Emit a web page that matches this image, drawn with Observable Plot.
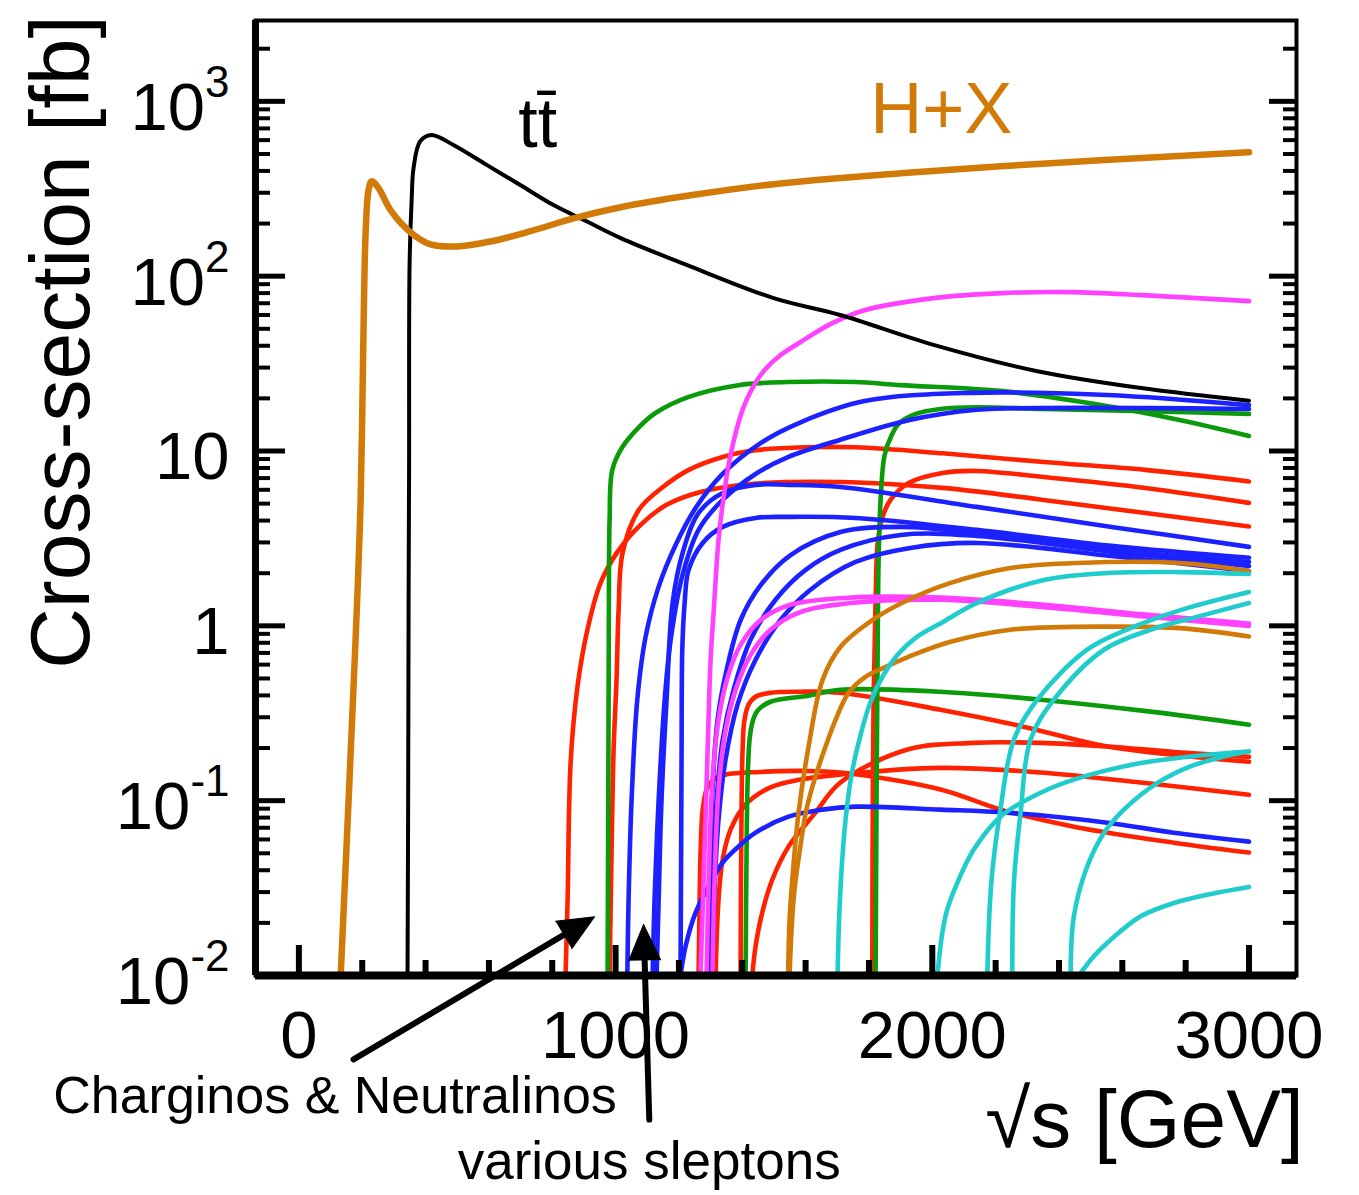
<!DOCTYPE html>
<html><head><meta charset="utf-8">
<script src="https://cdn.jsdelivr.net/npm/d3@7"></script>
<script src="https://cdn.jsdelivr.net/npm/@observablehq/plot@0.6"></script>
<style>
html,body{margin:0;padding:0;background:#fff;}
#chart svg{display:block;}
</style></head><body><div id="chart"></div>
<script>
// ---------- axes ----------
const xDomain = [-137, 3150];
const yDomain = [0.01, 2900];
const xTickValues = [0, 1000, 2000, 3000];
const xTickLabels = ["0", "1000", "2000", "3000"];
const xMinorTicks = [200, 400, 600, 800, 1200, 1400, 1600, 1800, 2200, 2400, 2600, 2800];
const yTickValues = [0.01, 0.1, 1, 10, 100, 1000];
const yTickLabels = ["10^-2", "10^-1", "1", "10", "10^2", "10^3"];
const yMinorTicks = [0.02,0.03,0.04,0.05,0.06,0.07,0.08,0.09, 0.2,0.3,0.4,0.5,0.6,0.7,0.8,0.9,
  2,3,4,5,6,7,8,9, 20,30,40,50,60,70,80,90, 200,300,400,500,600,700,800,900, 2000];
const xTitle = "√s [GeV]";
const yTitle = "Cross-section [fb]";

// ---------- curves: [sqrt(s) GeV, cross-section fb] ----------
const higgsX = [[132,0.01],[157,0.101],[179,0.83],[195,5.25],[204,49],[211,183],[220,310],[230,349],[252,318],[290,238],[353,178],[416,152],[498,148],[605,158],[732,181],[867,214],[1016,248],[1237,290],[1499,336],[1900,388],[2216,425],[2531,460],[3000,511]];
const ttbar = [[343,0.01],[345,0.1],[346.4,1.41],[348,8.3],[349.5,116],[356,272],[362,414],[383,591],[419,642],[488,563],[593,433],[699,332],[804,255],[908,206],[1016,165],[1224,116],[1499,74.9],[1709,60],[2004,40.5],[2332,28.6],[2660,22.9],[3000,19.4]];

const red1 = [[842,0.01],[848.5,0.0272],[858,0.165],[880,0.454],[911.6,0.96],[952.6,1.76],[1006,2.65],[1079,3.78],[1161,4.92],[1268,5.83],[1426,6.48],[1710,6.65],[2032,6.15],[2351,5.25],[2673,4.42],[3000,3.7]];
const red2 = [[981,0.01],[987.4,0.0525],[993.7,0.196],[1003,0.49],[1009.5,1.23],[1022,2.61],[1073,4.6],[1148.5,6.2],[1231,7.8],[1338,9.25],[1442,10.1],[1600,10.5],[1758,10.5],[2033,9.7],[2352,8.65],[2673,7.8],[3000,6.7]];
const red3 = [[1394.7,0.01],[1396,0.0354],[1398,0.101],[1401,0.196],[1407,0.29],[1420,0.354],[1442,0.393],[1489,0.414],[1584,0.42],[1710,0.414],[2026,0.331],[2288,0.265],[2553,0.204],[3000,0.167]];
const red4 = [[1431.6,0.01],[1442,0.0147],[1463,0.0229],[1495,0.0354],[1546,0.0546],[1631,0.0854],[1710,0.127],[1922,0.196],[2130,0.214],[2342,0.214],[2553,0.204],[2762,0.19],[3000,0.178]];
const red5 = [[1810.6,0.01],[1811.5,0.0525],[1814.6,0.378],[1821,1.41],[1827,2.9],[1840,4.04],[1868,5.25],[1925,6.56],[2032,7.49],[2140,7.69],[2351,7.1],[2673,6.15],[3000,5.05]];
const red6 = [[1262,0.01],[1265.4,0.0272],[1268.6,0.0525],[1275,0.0889],[1287.7,0.116],[1309.8,0.132],[1347.7,0.141],[1458,0.146],[1584,0.148],[1710,0.145],[2026,0.116],[2216,0.0889],[2447,0.071],[2762,0.0575],[3000,0.0505]];
const red7 = [[1315.8,0.01],[1325,0.0272],[1338,0.046],[1363,0.0683],[1410.5,0.0949],[1489,0.119],[1584,0.132],[1710,0.141],[2026,0.154],[2342,0.145],[2658,0.127],[3000,0.108]];

const green1 = [[974.7,0.01],[976.3,0.0525],[977.9,0.378],[978.8,1.41],[981.1,4.04],[989.6,7.79],[1021,10.5],[1074,13.7],[1126,16.5],[1231,20.4],[1388,23.8],[1546,24.8],[1758,24.8],[1900,23.8],[2222,22],[2551,18.1],[2784,15],[3000,12.2]];
const green2 = [[1821,0.01],[1824,0.101],[1827.5,0.73],[1830.5,2.38],[1836.8,5.25],[1849.5,9.5],[1871.6,12.3],[1893.7,14.3],[1947.5,16.3],[2026,17.4],[2140,17.8],[2351,17.4],[2673,16.9],[3000,16.3]];
const green3 = [[1410.5,0.01],[1413.6,0.0525],[1417,0.132],[1423,0.223],[1432.6,0.283],[1448,0.327],[1489,0.368],[1609,0.398],[1710,0.431],[2026,0.42],[2342,0.378],[2689,0.323],[3000,0.272]];

const blue1 = [[1037,0.01],[1041,0.0272],[1050.5,0.101],[1068.5,0.378],[1094.7,0.865],[1135.8,1.67],[1189.5,2.9],[1252.6,4.72],[1337.9,7.39],[1457.9,11.1],[1584.2,14.6],[1786,19.3],[2115,21.5],[2551,20.9],[3000,18.3]];
const blue2 = [[1117,0.01],[1123,0.0272],[1136,0.101],[1155,0.378],[1174,0.832],[1211.6,1.96],[1262,3.54],[1338,5.25],[1442,7.39],[1546,9.25],[1710,11.6],[1925,15],[2140,17.2],[2333,17.6],[2689,17.6],[3000,17.4]];
const blue3 = [[1129.5,0.01],[1136,0.0272],[1145,0.101],[1161,0.378],[1180,1.35],[1211.6,2.61],[1262,4.42],[1338,5.75],[1442,6.4],[1546,6.4],[1710,6.23],[2140,4.79],[2566,3.68],[3000,2.83]];
const blue4 = [[1205,0.01],[1207,0.0525],[1208.4,0.196],[1210.6,0.73],[1218,1.35],[1230.5,2.09],[1275,2.98],[1338,3.68],[1442,4.14],[1546,4.2],[1758,4.14],[2140,3.54],[2566,2.87],[3000,2.45]];
const blue5 = [[1290.4,0.01],[1296.7,0.0354],[1306,0.116],[1322,0.29],[1350.6,0.56],[1394.8,1.08],[1458,1.71],[1552.6,2.54],[1710,3.44],[1900,3.68],[2140,3.4],[2566,2.72],[3000,2.32]];
const blue6 = [[1300,0.01],[1306,0.0354],[1319,0.101],[1338,0.223],[1372.6,0.43],[1426,0.832],[1505,1.41],[1600,2.09],[1710,2.72],[1900,3.31],[2140,3.27],[2566,2.65],[3000,2.2]];
const blue7 = [[1306,0.01],[1312.6,0.031],[1325,0.078],[1347,0.171],[1385,0.354],[1442,0.64],[1520.6,1.08],[1615.4,1.61],[1757.8,2.32],[1931,2.79],[2140,2.98],[2566,2.51],[3000,2.06]];
const blueLow = [[1205,0.01],[1221,0.0147],[1252.6,0.0229],[1293.7,0.0323],[1338,0.0443],[1388,0.0546],[1442,0.0656],[1546,0.081],[1653,0.0889],[1758,0.0924],[2026,0.0889],[2238,0.0854],[2553,0.0748],[2762,0.0656],[3000,0.0583]];

const magenta1 = [[1268,0.01],[1278,0.0354],[1289.5,0.167],[1300,0.64],[1310,1.23],[1325,3.1],[1342,5.6],[1363,9.5],[1401,17.2],[1432,22.9],[1470,29],[1521,35.4],[1584,42],[1678,53.2],[1786,63.9],[2004,74.9],[2222,80],[2440,81],[2661,77.9],[3000,72]];
const magenta2 = [[1287.4,0.01],[1294,0.0354],[1306,0.132],[1325,0.29],[1354,0.51],[1395,0.78],[1458,1.08],[1552,1.32],[1741,1.45],[2026,1.45],[2352,1.32],[2674,1.16],[3000,1.03]];
const magenta3 = [[1306,0.01],[1312.6,0.0354],[1325,0.116],[1347,0.25],[1379,0.43],[1426,0.68],[1489,0.95],[1584,1.2],[1741,1.35],[2026,1.41],[2352,1.28],[2674,1.13],[3000,1.0]];

const orange1 = [[1544.7,0.01],[1549.4,0.0209],[1558,0.0354],[1577.8,0.0854],[1609.4,0.204],[1653.6,0.491],[1710.5,0.759],[1821,1.11],[1925,1.41],[2058,1.76],[2247,2.14],[2459,2.29],[2781,2.29],[3000,2.06]];
const orange2 = [[1549.4,0.01],[1555.6,0.0183],[1565,0.031],[1584.2,0.0561],[1602.5,0.0889],[1628,0.132],[1659.6,0.196],[1694.6,0.29],[1735.6,0.414],[1789,0.511],[1846,0.575],[1925,0.665],[2058,0.81],[2247,0.95],[2566,0.99],[2784,0.97],[3000,0.87]];

const cyan1 = [[1700.9,0.01],[1705.7,0.0209],[1713.6,0.0403],[1726.2,0.078],[1745.2,0.141],[1773.6,0.238],[1805.2,0.368],[1846.2,0.525],[1890.4,0.683],[1947.2,0.854],[2032.5,1.05],[2140,1.35],[2352,1.83],[2566,2.01],[2781,2.03],[3000,1.98]];
const cyan2 = [[2016,0.01],[2031.5,0.0175],[2047,0.0238],[2079,0.0339],[2131,0.0525],[2216,0.0813],[2342,0.111],[2447,0.132],[2658,0.164],[2868,0.183],[3000,0.191]];
const cyan3 = [[2173.7,0.01],[2186.3,0.0339],[2213.5,0.085],[2257.7,0.223],[2331.5,0.378],[2489,0.73],[2626,0.97],[2784,1.23],[3000,1.56]];
const cyan4 = [[2252.6,0.01],[2257.7,0.0339],[2278.8,0.085],[2310,0.223],[2384,0.378],[2542,0.73],[2689,0.95],[2847,1.14],[3000,1.35]];
const cyan5 = [[2436.8,0.01],[2447,0.0218],[2489,0.042],[2542,0.0654],[2605,0.0889],[2710,0.126],[2815,0.157],[2921,0.179],[3000,0.191]];
const cyan6 = [[2463,0.01],[2510,0.0129],[2553,0.0154],[2658,0.0218],[2763,0.026],[2868,0.029],[3000,0.0321]];

// ---------- annotations ----------
const noteText = ["tt\u0304", "H+X", "Charginos & Neutralinos", "various sleptons"];
const noteX = [754, 2028, 114, 1106];
const noteY = [739, 889, 0.00204, 0.000853];
const titleX = [2670, -749];
const titleY = [0.00148, 42];
const arrowFrom = [[172.7, 0.00331], [1106.4, 0.0015]];
const arrowTo = [[933.7, 0.0217], [1088.4, 0.0196]];

// ---------- styling ----------
const COLORS = {red: "#ff2200", green: "#0a9a0a", blue: "#1c22ff", magenta: "#ff42ff", orange: "#d27a08", cyan: "#20cccc"};
const susy = [
  ["red", [red1, red2, red3, red4, red5, red6, red7]],
  ["green", [green1, green2, green3]],
  ["blue", [blue1, blue2, blue3, blue4, blue5, blue6, blue7, blueLow]],
  ["magenta", [magenta1, magenta2, magenta3]],
  ["orange", [orange1, orange2]],
  ["cyan", [cyan1, cyan2, cyan3, cyan4, cyan5, cyan6]]
];
const FONT = "'Liberation Sans', Arial, Helvetica, sans-serif";
const px = d => d[0], py = d => d[1];
const blank = () => "";
const CURVE = "catmull-rom";

const lineMarks = [];
for (const [col, list] of susy) {
  for (const pts of list) {
    lineMarks.push(Plot.line(pts, {x: px, y: py, stroke: COLORS[col], strokeWidth: 4.6, curve: CURVE, clip: true}));
  }
}
lineMarks.push(Plot.line(ttbar, {x: px, y: py, stroke: "black", strokeWidth: 4, curve: CURVE, clip: true}));
lineMarks.push(Plot.line(higgsX, {x: px, y: py, stroke: COLORS.orange, strokeWidth: 6.5, curve: CURVE, clip: true}));

const yLabelOf = new Map(yTickValues.map((v, i) => [v, yTickLabels[i]]));
const xLabelOf = new Map(xTickValues.map((v, i) => [v, xTickLabels[i]]));

const svg = Plot.plot({
  width: 1359,
  height: 1195,
  marginLeft: 255,
  marginRight: 63,
  marginTop: 20,
  marginBottom: 220,
  style: {fontFamily: FONT, background: "white", color: "black"},
  x: {domain: xDomain, axis: null},
  y: {type: "log", domain: yDomain, axis: null},
  marks: [
    ...lineMarks,
    // frame
    Plot.frame({stroke: "black", strokeWidth: 4}),
    Plot.ruleX([xDomain[0]], {stroke: "black", strokeWidth: 7}),
    Plot.ruleY([yDomain[0]], {stroke: "black", strokeWidth: 8}),
    // inward ticks
    Plot.axisY(yTickValues, {anchor: "left", tickSize: -30, strokeWidth: 5, tickFormat: blank, label: null}),
    Plot.axisY(yMinorTicks, {anchor: "left", tickSize: -15, strokeWidth: 4, tickFormat: blank, label: null}),
    Plot.axisY(yTickValues, {anchor: "right", tickSize: -28, strokeWidth: 5, tickFormat: blank, label: null}),
    Plot.axisY(yMinorTicks, {anchor: "right", tickSize: -14, strokeWidth: 4, tickFormat: blank, label: null}),
    Plot.axisX(xTickValues, {anchor: "bottom", tickSize: -30, strokeWidth: 6, tickFormat: blank, label: null}),
    Plot.axisX(xMinorTicks, {anchor: "bottom", tickSize: -15, strokeWidth: 6, tickFormat: blank, label: null}),
    // tick labels
    Plot.axisY(yTickValues, {anchor: "left", tickSize: 0, tickPadding: 26, fontSize: 67, dy: 7, tickFormat: d => yLabelOf.get(d), label: null}),
    Plot.axisX(xTickValues, {anchor: "bottom", tickSize: 0, tickPadding: 35, fontSize: 67, tickFormat: d => xLabelOf.get(d), label: null}),
    // axis titles
    Plot.text([0], {x: () => titleX[0], y: () => titleY[0], text: () => xTitle, fontSize: 82, textAnchor: "middle"}),
    Plot.text([0], {x: () => titleX[1], y: () => titleY[1], text: () => yTitle, fontSize: 84, rotate: -90, textAnchor: "middle"}),
    // notes
    Plot.text([0], {x: () => noteX[0], y: () => noteY[0], text: () => noteText[0], fontSize: 70, fill: "black"}),
    Plot.text([1], {x: () => noteX[1], y: () => noteY[1], text: () => noteText[1], fontSize: 72, fill: COLORS.orange}),
    Plot.text([2], {x: () => noteX[2], y: () => noteY[2], text: () => noteText[2], fontSize: 52, fill: "black"}),
    Plot.text([3], {x: () => noteX[3], y: () => noteY[3], text: () => noteText[3], fontSize: 53, fill: "black"}),
    // arrows
    Plot.arrow([0, 1], {x1: i => arrowFrom[i][0], y1: i => arrowFrom[i][1], x2: i => arrowTo[i][0], y2: i => arrowTo[i][1], stroke: "black", strokeWidth: 6, headLength: 0, insetEnd: 26}),
    Plot.vector([0, 1], {x: i => arrowTo[i][0], y: i => arrowTo[i][1], rotate: i => [59.3, -1.7][i], length: 36, r: 16, shape: "spike", anchor: "end", fill: "black", stroke: "black", strokeWidth: 1})
  ]
});

// superscripts for the y tick labels
d3.select(svg).selectAll('g[aria-label="y-axis tick label"] text').each(function () {
  const t = this.textContent;
  const m = t.match(/^(\d+)\^(.+)$/);
  if (m) {
    const sel = d3.select(this);
    sel.text(null);
    sel.append("tspan").text(m[1]);
    sel.append("tspan").attr("dy", -33).attr("font-size", 44).text(m[2]);
  }
});

document.getElementById("chart").append(svg);
</script></body></html>
